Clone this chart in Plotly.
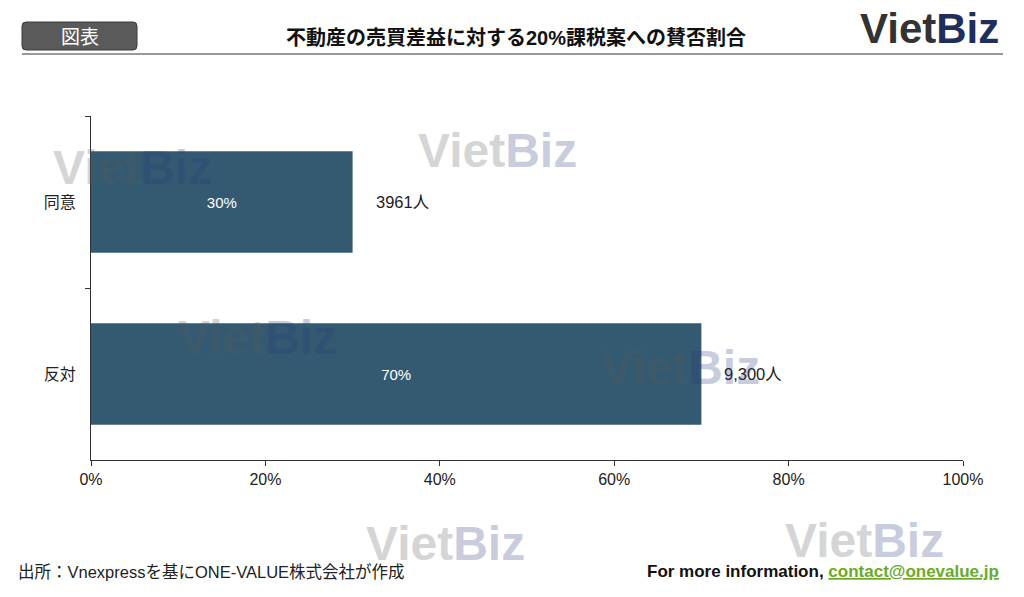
import plotly.graph_objects as go

categories = ["同意", "反対"]
shares = [30, 70]
share_labels = ["30%", "70%"]
count_labels = ["3961人", "9,300人"]
x_tickvals = [0, 20, 40, 60, 80, 100]
x_ticktext = ["0%", "20%", "40%", "60%", "80%", "100%"]

JP = "Liberation Sans, Arial, Noto Sans CJK JP, sans-serif"
BAR = "#345a72"

L, R, T, B = 91, 963, 116, 460
W, H = R - L, B - T


def px(x):
    return (x - L) / W


def py(y):
    return (B - y) / H


fig = go.Figure()
fig.add_trace(go.Bar(
    y=categories, x=shares, orientation="h",
    marker=dict(color=BAR, line=dict(width=0)),
    width=0.59,
    text=share_labels, textposition="inside", insidetextanchor="middle",
    textfont=dict(color="white", size=15, family=JP),
    hoverinfo="skip",
))

for c, v, t in zip(categories, shares, count_labels):
    fig.add_annotation(x=v, y=c, text=t, showarrow=False, xanchor="left", yanchor="middle",
                       xshift=21, font=dict(size=16.5, color="#222", family=JP))

# watermarks
wm = [(132, 167), (497, 150), (257, 337), (680, 367), (445, 543), (864, 540)]
for (wx, wy) in wm:
    fig.add_annotation(xref="paper", yref="paper", x=px(wx), y=py(wy),
                       text="<b>Viet<span style='color:#2a3a7a'>Biz</span></b>",
                       showarrow=False, xanchor="center", yanchor="middle",
                       font=dict(size=48, color="#5a5a5a", family="Liberation Sans, Arial"),
                       opacity=0.25)

# header box with rounded corners
x0, x1, y0, y1 = px(22), px(137), py(50), py(22)
rx, ry = 4 / W, 4 / H
path = (f"M {x0+rx},{y0} L {x1-rx},{y0} Q {x1},{y0} {x1},{y0+ry} L {x1},{y1-ry} "
        f"Q {x1},{y1} {x1-rx},{y1} L {x0+rx},{y1} Q {x0},{y1} {x0},{y1-ry} "
        f"L {x0},{y0+ry} Q {x0},{y0} {x0+rx},{y0} Z")
fig.add_shape(type="path", xref="paper", yref="paper", path=path,
              fillcolor="#5a5a5a", line=dict(color="#3a3a3a", width=1), layer="above")
fig.add_annotation(xref="paper", yref="paper", x=px(80), y=py(37), xanchor="center", yanchor="middle",
                   text="図表", showarrow=False, font=dict(size=19, color="white", family=JP))
fig.add_annotation(xref="paper", yref="paper", x=px(516), y=py(38), xanchor="center", yanchor="middle",
                   text="<b>不動産の売買差益に対する20%課税案への賛否割合</b>", showarrow=False,
                   font=dict(size=20, color="#111", family=JP))
fig.add_annotation(xref="paper", yref="paper", x=px(1001), y=py(28), xanchor="right", yanchor="middle",
                   text="<b>Viet<span style='color:#1f2f5c'>Biz</span></b>", showarrow=False,
                   font=dict(size=42, color="#333333", family="Liberation Sans, Arial"))
fig.add_shape(type="line", xref="paper", yref="paper",
              x0=px(22), x1=px(1003), y0=py(54), y1=py(54),
              line=dict(color="#777", width=1.5))

# footer
fig.add_annotation(xref="paper", yref="paper", x=px(16), y=py(572), xanchor="left", yanchor="middle",
                   text="出所：Vnexpressを基にONE-VALUE株式会社が作成",
                   showarrow=False, font=dict(size=16.5, color="#222", family=JP))
fig.add_annotation(xref="paper", yref="paper", x=px(1001), y=py(571), xanchor="right", yanchor="middle",
                   text="<b>For more information, <span style='color:#6aaa2a'><u>contact@onevalue.jp</u></span></b>",
                   showarrow=False, font=dict(size=17, color="#111", family="Liberation Sans, Arial"))

fig.update_layout(
    width=1024, height=597,
    margin=dict(l=L, r=1024 - R, t=T, b=597 - B),
    paper_bgcolor="white", plot_bgcolor="white",
    showlegend=False,
    xaxis=dict(range=[0, 100], tickvals=x_tickvals, ticktext=x_ticktext,
               showgrid=False, zeroline=False, showline=True, linecolor="#333", linewidth=1,
               ticks="outside", ticklen=5, tickcolor="#333",
               tickfont=dict(size=16, color="#222", family=JP)),
    yaxis=dict(autorange="reversed", showgrid=False, zeroline=False, showline=True,
               linecolor="#333", linewidth=1, ticks="outside", ticklen=5, tickcolor="#333",
               tickson="boundaries", ticklabelstandoff=11,
               tickfont=dict(size=16, color="#222", family=JP)),
)

fig.write_html("out.html", config={"displayModeBar": False},
               post_script="document.body.style.margin='0';document.body.style.padding='0';")
